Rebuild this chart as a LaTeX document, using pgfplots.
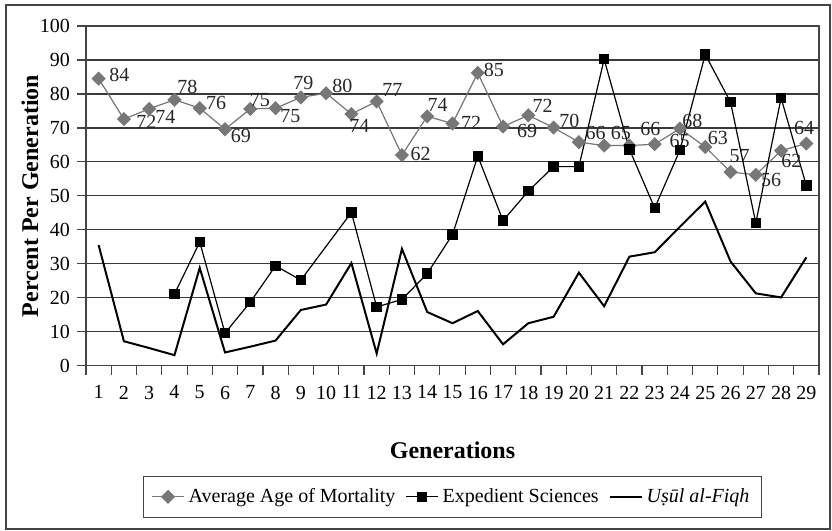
\documentclass[border=0pt]{standalone}
\usepackage{fontspec}
\setmainfont{Liberation Serif}
\usepackage{pgfplots}
\pgfplotsset{compat=1.18}
\usepackage{pgfplotstable}

\definecolor{avggray}{HTML}{777777}
\definecolor{gridc}{HTML}{3A3A3A}
\definecolor{framec}{HTML}{444444}

% x  y  label  label offset (px, right / up)
\pgfplotstableread{
x y lab lx ly
1 84.5 84 20.8 4
2 72.6 72 22.5 -2.5
3 75.6 74 16.3 -8.2
4 78.3 78 13 12.5
5 75.8 76 16.5 5.2
6 69.6 69 15.8 -6.5
7 75.6 75 9.5 9.3
8 75.8 75 14.8 -7.8
9 79.0 79 2.5 14.2
10 80.2 80 16.3 7.5
11 74.1 74 8 -12.2
12 77.8 77 15.7 11.3
13 62.0 62 18.8 0.8
14 73.4 74 10.5 11.2
15 71.3 72 18.7 0.5
16 86.2 85 16.2 3.3
17 70.4 69 24.2 -4.8
18 73.7 72 14.3 9.2
19 70.1 70 15.8 6.8
20 65.8 66 16.7 9.2
21 64.8 65 16.8 12.5
22 64.8 66 21 16.5
23 65.2 65 25 3.5
24 69.8 68 12.3 7.8
25 64.4 63 12.7 8.8
26 57.0 57 9.2 15.8
27 56.2 56 15.2 -5
28 63.3 62 10.2 -10.5
29 65.4 64 -2.3 15.5
}\avgdata

\pgfplotstableread{
x y
4 21.1
5 36.4
6 9.6
7 18.7
8 29.4
9 25.2
11 45.1
12 17.3
13 19.5
14 27.1
15 38.6
16 61.7
17 42.7
18 51.4
19 58.6
20 58.6
21 90.2
22 63.7
23 46.4
24 63.5
25 91.6
26 77.6
27 42.0
28 78.8
29 53.0
}\expdata

\pgfplotstableread{
x y
1 35.5
2 7.2
3 5.2
4 3.1
5 28.8
6 3.9
7 5.6
8 7.4
9 16.4
10 18.0
11 30.2
12 3.6
13 34.4
14 15.8
15 12.5
16 16.1
17 6.3
18 12.5
19 14.4
20 27.4
21 17.5
22 32.1
23 33.4
24 40.9
25 48.3
26 30.7
27 21.3
28 20.1
29 31.9
}\usuldata

\begin{document}
\begin{tikzpicture}
\begin{scope}[x=0.5pt,y=0.5pt]
\path[use as bounding box] (0,0) rectangle (832,531);
\draw[framec, line width=0.6pt] (6,526) rectangle (830,2);
\end{scope}
\begin{axis}[
  at={(43pt,82.65pt)}, anchor=south west,
  scale only axis, width=366.5pt, height=169.85pt,
  xmin=0.5, xmax=29.5, ymin=0, ymax=100,
  ytick={0,10,...,100},
  xtick={1,...,29},
  minor xtick={0.5,1.5,...,29.5},
  tick pos=left,
  tick align=outside,
  major tick length=4.5pt,
  minor tick length=4.5pt,
  major x tick style={draw=none},
  tick style={framec, line width=0.6pt},
  ymajorgrids,
  major grid style={gridc, line width=0.6pt},
  axis line style={framec, line width=0.6pt},
  tick label style={font=\fontsize{10}{12}\selectfont},
  /pgf/number format/assume math mode=true,
  xticklabel style={yshift=-2pt},
  legend image code/.code={\draw[mark repeat=2,mark phase=2] plot coordinates {(0pt,0pt) (8pt,0pt) (16pt,0pt)};},
  legend style={at={(0.5,-0.386)}, anchor=center, legend columns=3,
    draw=framec, line width=0.6pt, font=\fontsize{10}{12}\selectfont,
    inner xsep=4pt, inner ysep=4pt,
    /tikz/every even column/.append style={column sep=3pt}},
]
\addplot[avggray, line width=0.6pt, mark=square*, mark size=2.2pt,
  mark options={rotate=45, fill=avggray, draw=avggray},
  nodes near coords, point meta=explicit symbolic,
  visualization depends on={\thisrow{lx} \as \lblx},
  visualization depends on={\thisrow{ly} \as \lbly},
  every node near coord/.append style={anchor=center, inner sep=0pt,
    xshift=\lblx*0.5pt, yshift=\lbly*0.5pt,
    font=\fontsize{10}{12}\selectfont, text=black!85}]
  table[x=x, y=y, meta=lab] {\avgdata};
\addplot[black, line width=0.6pt, mark=square*, mark size=2.3pt,
  mark options={fill=black, draw=black}]
  table[x=x, y=y] {\expdata};
\addplot[black, line width=1pt, no marks]
  table[x=x, y=y] {\usuldata};
\legend{Average Age of Mortality, Expedient Sciences, \textit{Uṣūl al-Fiqh}}
\end{axis}
\begin{scope}[x=0.5pt,y=0.5pt]
\node[font=\fontsize{12}{14}\selectfont\bfseries] at (452.5,81) {Generations};
\node[rotate=90, font=\fontsize{12}{14}\selectfont\bfseries] at (30,335) {Percent Per Generation};
\end{scope}
\end{tikzpicture}
\end{document}
